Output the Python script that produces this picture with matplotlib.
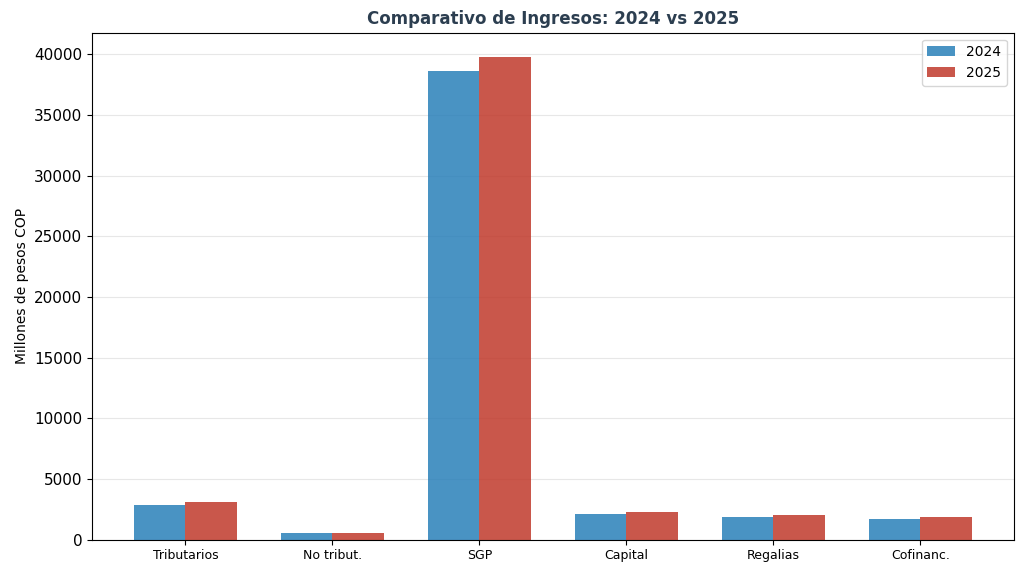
import numpy as np
import matplotlib.pyplot as plt

categorias = ['Tributarios', 'No tribut.', 'SGP', 'Capital', 'Regalias', 'Cofinanc.']
ingresos_2024 = [2850, 500, 38600, 2100, 1850, 1700]
ingresos_2025 = [3100, 550, 39800, 2250, 2050, 1850]

x = np.arange(len(categorias))
w = 0.35

fig, ax = plt.subplots(figsize=(10.24, 5.74), dpi=100)
ax.bar(x - w/2, ingresos_2024, w, label='2024', color='#2980b9', alpha=0.85)
ax.bar(x + w/2, ingresos_2025, w, label='2025', color='#c0392b', alpha=0.85)

ax.set_title('Comparativo de Ingresos: 2024 vs 2025', fontsize=12, fontweight='bold', color='#2c3e50')
ax.set_ylabel('Millones de pesos COP', fontsize=10)
ax.set_xticks(x)
ax.set_xticklabels(categorias, fontsize=9)
ax.tick_params(axis='y', labelsize=11)
ax.legend(fontsize=10)
ax.grid(axis='y', alpha=0.3)
ax.set_axisbelow(True)

fig.subplots_adjust(left=0.09, right=0.99, top=0.943, bottom=0.06)
fig.savefig('out.png')
